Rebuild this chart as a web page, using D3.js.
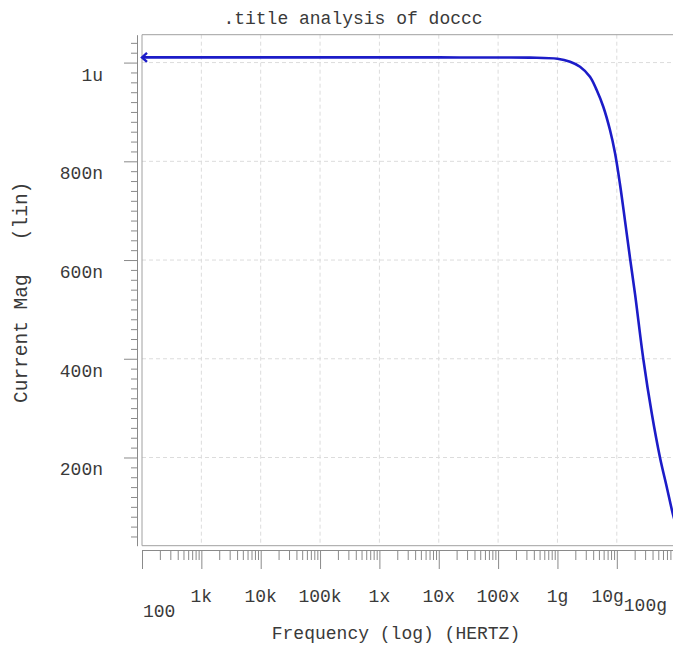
<!DOCTYPE html>
<html>
<head>
<meta charset="utf-8">
<script src="https://cdn.jsdelivr.net/npm/d3@7"></script>
<style>
  body { margin: 0; background: #fff; }
  text { font-family: "Liberation Mono", "DejaVu Sans Mono", monospace; fill: #3a3a3a; }
</style>
</head>
<body>
<div id="chart"></div>
<script>
// tick values / labels
const xTickValues = [1e2, 1e3, 1e4, 1e5, 1e6, 1e7, 1e8, 1e9, 1e10, 1e11]
const xTickLabels = ["100", "1k", "10k", "100k", "1x", "10x", "100x", "1g", "10g", "100g"]
const yTickValues = [200e-9, 400e-9, 600e-9, 800e-9, 1e-6]
const yTickLabels = ["200n", "400n", "600n", "800n", "1u"]

// the trace (Hz, A)
const freqHz = [1e2, 1e3, 1e4, 1e5, 1e6, 1e7, 1e8, 3.44e8, 1e9, 1.63e9, 2.4e9, 3.53e9,
    4.58e9, 5.92e9, 7.68e9, 9.33e9, 11.3e9, 13.7e9, 16.7e9, 20.3e9, 28e9, 38.8e9,
    53.5e9, 69.3e9, 87.5e9, 100e9]
const currentA = [1010.5e-9, 1010.5e-9, 1010.5e-9, 1010.5e-9, 1010.5e-9, 1010.5e-9,
    1010.3e-9, 1010e-9, 1007.8e-9, 1001.7e-9, 991.6e-9, 971.4e-9, 944.4e-9, 910.6e-9,
    863.4e-9, 816.8e-9, 754e-9, 681e-9, 604e-9, 531e-9, 399e-9, 289.5e-9, 199.5e-9,
    140.8e-9, 86.9e-9, 62e-9]

const width = 673, height = 649
const plot = {left: 142, top: 34.7, bottom: 545.7, right: 735.5}

const svg = d3.select('#chart').append('svg')
    .attr('width', width)
    .attr('height', height)
    .style('display', 'block')

const x = d3.scaleLog()
    .domain([1e2, 1e12])
    .range([plot.left, plot.right])

const y = d3.scaleLinear()
    .domain([21.3e-9, 1056.5e-9])
    .range([plot.bottom, plot.top])

// minor ticks: 2..9 in each decade / every 20n
const xMinor = []
xTickValues.forEach(d => { for (let k = 2; k < 10; k++) xMinor.push(d * k) })
const yMinor = d3.range(2, 53).filter(k => k % 10 !== 0).map(k => k * 20e-9)

// grid
const grid = svg.append('g')
    .attr('stroke', '#dcdcdc')
    .attr('stroke-dasharray', '4,3')
    .attr('stroke-width', 1)
grid.selectAll('line.vx')
    .data(xTickValues.slice(1))
    .join('line')
    .attr('x1', d => x(d)).attr('x2', d => x(d))
    .attr('y1', plot.top).attr('y2', plot.bottom)
grid.selectAll('line.hy')
    .data(yTickValues)
    .join('line')
    .attr('class', 'hy')
    .attr('x1', plot.left).attr('x2', plot.right)
    .attr('y1', d => y(d)).attr('y2', d => y(d))

// frame
svg.append('path')
    .attr('d', `M${plot.right},${plot.top}H${plot.left}V${plot.bottom}H${plot.right}`)
    .attr('fill', 'none')
    .attr('stroke', '#a0a0a0')
    .attr('stroke-width', 1)

// y axis strip
const yAxisMajor = d3.axisLeft(y).tickValues(yTickValues).tickSize(13).tickSizeOuter(0).tickFormat('')
const yAxisMinor = d3.axisLeft(y).tickValues(yMinor).tickSize(6).tickSizeOuter(0).tickFormat('')
const yAx = svg.append('g').attr('transform', 'translate(137,0)')
yAx.append('g').call(yAxisMajor)
yAx.append('g').call(yAxisMinor).select('.domain').remove()
yAx.selectAll('path, line').attr('stroke', '#8a8a8a')

// x axis strip
const xAxisMajor = d3.axisBottom(x).tickValues(xTickValues).tickSize(19).tickSizeOuter(0).tickFormat('')
const xAxisMinor = d3.axisBottom(x).tickValues(xMinor).tickSize(10).tickSizeOuter(0).tickFormat('')
const xAx = svg.append('g').attr('transform', 'translate(0,550)')
xAx.append('g').call(xAxisMajor)
xAx.append('g').call(xAxisMinor).select('.domain').remove()
xAx.selectAll('path, line').attr('stroke', '#8a8a8a')

// y labels
svg.append('g').selectAll('text')
    .data(yTickValues)
    .join('text')
    .attr('x', 103)
    .attr('y', d => y(d) + 18)
    .attr('text-anchor', 'end')
    .attr('font-size', '18px')
    .text((d, i) => yTickLabels[i])

// x labels: the end labels drop a bit, the one before the last is pushed left
const last = xTickLabels.length - 1
svg.append('g').selectAll('text')
    .data(xTickValues)
    .join('text')
    .attr('x', (d, i) => i === 0 ? x(d) + 1 : (i === last ? 667 : (i === last - 1 ? x(d) + 7 : x(d))))
    .attr('y', (d, i) => i === 0 ? 617 : (i === last ? 611 : 601.5))
    .attr('text-anchor', (d, i) => i === 0 ? 'start' : (i >= last - 1 ? 'end' : 'middle'))
    .attr('font-size', '18px')
    .text((d, i) => xTickLabels[i])

// titles
svg.append('text')
    .attr('x', 353).attr('y', 24)
    .attr('text-anchor', 'middle')
    .attr('font-size', '18px')
    .text('.title analysis of doccc')

svg.append('text')
    .attr('x', 396).attr('y', 639)
    .attr('text-anchor', 'middle')
    .attr('font-size', '18px')
    .text('Frequency (log) (HERTZ)')

const yTitle = svg.append('g').attr('transform', 'translate(27,0) rotate(-90)')
yTitle.append('text')
    .attr('x', -403).attr('y', 0)
    .attr('font-size', '19.5px')
    .text('Current Mag')
yTitle.append('text')
    .attr('x', -181.7).attr('y', 0)
    .attr('text-anchor', 'end')
    .attr('font-size', '19.5px')
    .text('(lin)')

// trace
const blue = '#1c1cc8'
const line = d3.line()
    .x((d, i) => x(freqHz[i]))
    .y(d => y(d))
    .curve(d3.curveCatmullRom.alpha(0.5))

svg.append('path')
    .datum(currentA)
    .attr('d', line)
    .attr('fill', 'none')
    .attr('stroke', blue)
    .attr('stroke-width', 2.6)

// arrow head at the start of the trace
const ax0 = x(freqHz[0]), ay0 = y(currentA[0])
svg.append('path')
    .attr('d', `M${ax0 + 5},${ay0 - 4.5}L${ax0},${ay0}L${ax0 + 5},${ay0 + 4.5}`)
    .attr('fill', 'none')
    .attr('stroke', blue)
    .attr('stroke-width', 2.4)
</script>
</body>
</html>
